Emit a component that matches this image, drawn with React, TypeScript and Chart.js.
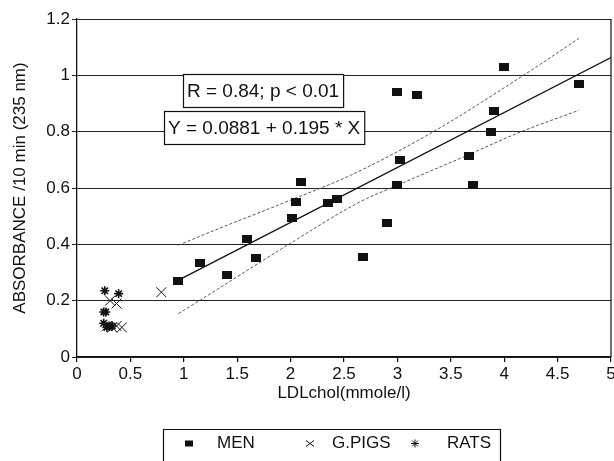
import React, { useEffect, useRef } from 'react';
import { Chart, registerables } from 'chart.js';

Chart.register(...registerables);

// ---- data ----
const menX = [0.95, 1.15, 1.4, 1.59, 1.68, 2.01, 2.05, 2.1, 2.35, 2.43, 2.68, 2.9, 3.0, 3.0, 3.02, 3.18, 3.67, 3.71, 3.88, 3.9, 4.0, 4.7];
const menY = [0.27, 0.335, 0.29, 0.42, 0.35, 0.495, 0.55, 0.62, 0.545, 0.56, 0.355, 0.475, 0.94, 0.61, 0.70, 0.93, 0.715, 0.61, 0.80, 0.875, 1.03, 0.97];

const pigX = [0.79, 0.31, 0.37, 0.28, 0.33, 0.37, 0.42];
const pigY = [0.23, 0.2, 0.19, 0.11, 0.105, 0.11, 0.105];

const ratX = [0.26, 0.39, 0.25, 0.27, 0.25, 0.28, 0.3, 0.33];
const ratY = [0.235, 0.225, 0.16, 0.16, 0.12, 0.105, 0.11, 0.11];

const fitX = [0.95, 5];
const fitY = [0.273, 1.063];

const upperX = [0.95, 1.25, 2.0, 2.56, 3.31, 4.16, 4.7];
const upperY = [0.397, 0.444, 0.557, 0.645, 0.794, 0.995, 1.131];

const lowerX = [0.95, 1.15, 1.97, 2.65, 2.94, 3.66, 4.12, 4.7];
const lowerY = [0.154, 0.201, 0.397, 0.551, 0.6, 0.717, 0.794, 0.876];

const seriesLabels = ['MEN', 'G.PIGS', 'RATS'];
const xRange = [0, 5];
const xStep = 0.5;
const yRange = [0, 1.2];
const yStep = 0.2;
const xTitle = 'LDLchol(mmole/l)';
const yTitle = 'ABSORBANCE /10 min (235 nm)';
const statText = 'R = 0.84; p < 0.01';
const eqText = 'Y = 0.0881 + 0.195 * X';

const FONT = '"Liberation Sans", Arial, Helvetica, sans-serif';
const INK = '#111';

const pts = (xs: number[], ys: number[]) => xs.map((x, i) => ({ x, y: ys[i] }));
const fmt = (v: any) => String(Math.round(Number(v) * 10) / 10);

function makeSquare(): HTMLCanvasElement {
  const c = document.createElement('canvas');
  c.width = 10;
  c.height = 8;
  const g = c.getContext('2d')!;
  g.fillStyle = INK;
  g.fillRect(0, 0, 10, 8);
  return c;
}

const decorPlugin = {
  id: 'decor',
  afterDraw(chart: any) {
    const { ctx, chartArea, scales } = chart;
    const xs = scales.x;
    const ys = scales.y;
    ctx.save();
    // right frame line
    ctx.strokeStyle = INK;
    ctx.lineWidth = 1.2;
    ctx.beginPath();
    ctx.moveTo(chartArea.right, chartArea.top);
    ctx.lineTo(chartArea.right, chartArea.bottom);
    ctx.stroke();

    // annotation boxes
    const drawBox = (text: string, vx: number, vy: number) => {
      ctx.font = `19px ${FONT}`;
      const w = ctx.measureText(text).width + 8;
      const h = 33;
      const left = Math.round(xs.getPixelForValue(vx)) + 0.5;
      const top = Math.round(ys.getPixelForValue(vy)) + 0.5;
      ctx.fillStyle = '#fff';
      ctx.fillRect(left, top, w, h);
      ctx.strokeStyle = INK;
      ctx.lineWidth = 1.2;
      ctx.strokeRect(left, top, w, h);
      ctx.fillStyle = INK;
      ctx.textBaseline = 'middle';
      ctx.textAlign = 'left';
      ctx.fillText(text, left + 3.5, top + h / 2 + 1);
    };
    drawBox(statText, 0.99, 1.005);
    drawBox(eqText, 0.81, 0.872);

    // legend
    const lTop = 429.5;
    const lLeft = 163.5;
    const lRight = 500.5;
    const cy = 443.5;
    ctx.strokeStyle = INK;
    ctx.lineWidth = 1.2;
    ctx.beginPath();
    ctx.moveTo(lLeft, 475);
    ctx.lineTo(lLeft, lTop);
    ctx.lineTo(lRight, lTop);
    ctx.lineTo(lRight, 475);
    ctx.stroke();

    ctx.font = `17px ${FONT}`;
    ctx.fillStyle = INK;
    ctx.textBaseline = 'middle';
    ctx.textAlign = 'left';
    // MEN marker
    ctx.fillRect(185, cy - 3, 8, 6);
    ctx.fillText(seriesLabels[0], 217, cy);
    // G.PIGS marker
    ctx.lineWidth = 1;
    ctx.beginPath();
    ctx.moveTo(306, cy - 3);
    ctx.lineTo(314, cy + 3);
    ctx.moveTo(306, cy + 3);
    ctx.lineTo(314, cy - 3);
    ctx.stroke();
    ctx.fillText(seriesLabels[1], 332, cy);
    // RATS marker
    ctx.beginPath();
    ctx.moveTo(411, cy);
    ctx.lineTo(419, cy);
    ctx.moveTo(415, cy - 4);
    ctx.lineTo(415, cy + 4);
    ctx.moveTo(412, cy - 3);
    ctx.lineTo(418, cy + 3);
    ctx.moveTo(412, cy + 3);
    ctx.lineTo(418, cy - 3);
    ctx.stroke();
    ctx.fillText(seriesLabels[2], 447, cy);
    ctx.restore();
  },
};

export default function App() {
  const ref = useRef<HTMLCanvasElement | null>(null);

  useEffect(() => {
    document.body.style.margin = '0';
    const canvas = ref.current!;
    const square = makeSquare();
    const chart = new Chart(canvas, {
      type: 'scatter',
      data: {
        datasets: [
          {
            label: seriesLabels[0],
            data: pts(menX, menY),
            pointStyle: square as any,
            pointRadius: 5,
            backgroundColor: INK,
            borderColor: INK,
            order: 1,
          },
          {
            label: seriesLabels[1],
            data: pts(pigX, pigY),
            pointStyle: 'crossRot',
            pointRadius: 7,
            borderWidth: 1,
            borderColor: INK,
            backgroundColor: INK,
            order: 1,
          },
          {
            label: seriesLabels[2],
            data: pts(ratX, ratY),
            pointStyle: 'star',
            pointRadius: 4.5,
            borderWidth: 1.6,
            borderColor: INK,
            backgroundColor: INK,
            order: 1,
          },
          {
            label: 'fit',
            data: pts(fitX, fitY),
            showLine: true,
            pointRadius: 0,
            borderColor: INK,
            borderWidth: 1.3,
            order: 2,
          },
          {
            label: 'upper',
            data: pts(upperX, upperY),
            showLine: true,
            pointRadius: 0,
            borderColor: '#444',
            borderWidth: 0.9,
            borderDash: [3, 2],
            cubicInterpolationMode: 'monotone',
            order: 2,
          },
          {
            label: 'lower',
            data: pts(lowerX, lowerY),
            showLine: true,
            pointRadius: 0,
            borderColor: '#444',
            borderWidth: 0.9,
            borderDash: [3, 2],
            cubicInterpolationMode: 'monotone',
            order: 2,
          },
        ] as any,
      },
      options: {
        animation: false,
        responsive: false,
        maintainAspectRatio: false,
        layout: { padding: { left: 0, right: 0, top: 19, bottom: 57 } },
        plugins: {
          legend: { display: false },
          tooltip: { enabled: false },
        },
        scales: {
          x: {
            type: 'linear',
            min: xRange[0],
            max: xRange[1],
            ticks: {
              stepSize: xStep,
              color: INK,
              font: { family: FONT, size: 17 },
              padding: 2,
              maxRotation: 0,
              autoSkip: false,
              callback: fmt,
            },
            grid: { drawOnChartArea: false, tickLength: 5, color: INK, lineWidth: 1.2 },
            border: { color: INK, width: 1.3 },
            title: {
              display: true,
              text: xTitle,
              color: INK,
              font: { family: FONT, size: 17 },
              padding: { top: 0, bottom: 0 },
            },
            afterFit: (s: any) => {
              s.height = 47;
            },
          },
          y: {
            type: 'linear',
            min: yRange[0],
            max: yRange[1],
            ticks: {
              stepSize: yStep,
              color: INK,
              font: { family: FONT, size: 17 },
              padding: 2,
              callback: fmt,
            },
            grid: { color: '#222', tickLength: 5, lineWidth: 1 },
            border: { color: INK, width: 1.3 },
            title: {
              display: true,
              text: yTitle,
              color: INK,
              font: { family: FONT, size: 17 },
              padding: { top: 10, bottom: 0 },
            },
            afterFit: (s: any) => {
              s.width = 77;
            },
          },
        },
      } as any,
      plugins: [decorPlugin],
    });
    return () => chart.destroy();
  }, []);

  return (
    <div style={{ width: 614, height: 461, background: '#fff', overflow: 'hidden' }}>
      <canvas ref={ref} width={619} height={461} style={{ display: 'block', width: 619, height: 461 }} />
    </div>
  );
}
